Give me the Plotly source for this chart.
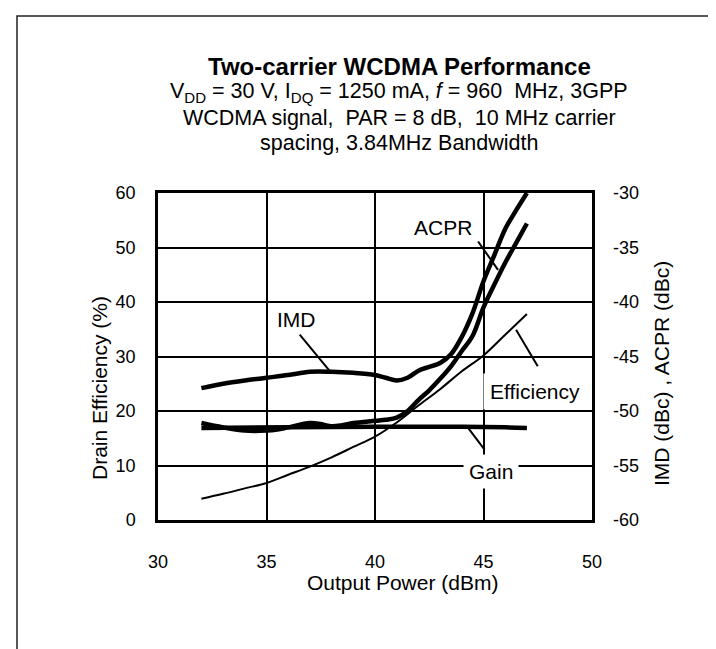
import plotly.graph_objects as go

# ---------------- data ----------------
imd_x = [32, 33, 34, 35, 36, 37, 38, 39, 40, 40.5, 41, 41.5, 42, 42.5, 43, 43.5, 44, 44.5, 45, 45.5, 46, 46.5, 47]
imd_y = [-47.9, -47.5, -47.2, -46.95, -46.7, -46.4, -46.4, -46.5, -46.7, -46.95, -47.2, -46.95, -46.3, -45.95, -45.6,
         -44.8, -43.2, -41.0, -38.1, -35.7, -33.3, -31.6, -30.0]

acpr_x = [32, 33, 34, 35, 35.5, 36, 37, 37.5, 38, 38.5, 39, 40, 40.5, 41, 41.5, 42, 42.5, 43, 43.5, 44, 44.5, 45, 45.5, 46, 46.5, 47]
acpr_y = [-51.1, -51.5, -51.8, -51.8, -51.7, -51.5, -51.1, -51.2, -51.4, -51.3, -51.1, -50.9, -50.8, -50.6, -50.0,
          -49.0, -48.1, -47.05, -45.9, -44.5, -43.1, -40.5, -38.4, -36.4, -34.6, -32.8]

eff_x = [32, 33, 34, 35, 36, 37, 38, 39, 40, 41, 42, 43, 44, 45, 46, 47]
eff_y = [3.9, 4.8, 5.8, 6.8, 8.3, 9.8, 11.5, 13.4, 15.3, 17.9, 21.0, 24.0, 27.3, 30.2, 34.0, 37.8]

gain_x = [32, 36, 40, 44, 46, 47]
gain_y = [16.9, 17.0, 17.1, 17.1, 17.0, 16.9]

x_ticks = [30, 35, 40, 45, 50]
y_left_ticks = [0, 10, 20, 30, 40, 50, 60]
y_right_ticks = [-60, -55, -50, -45, -40, -35, -30]
y_right_text = ["-60", "-55", "-50", "-45", "-40", "-35", "-30"]

FONT = "Liberation Sans, Arial, sans-serif"

fig = go.Figure()
fig.add_trace(go.Scatter(x=eff_x, y=eff_y, mode="lines", line=dict(color="black", width=2, shape="spline"),
                         name="Efficiency", yaxis="y"))
fig.add_trace(go.Scatter(x=gain_x, y=gain_y, mode="lines", line=dict(color="black", width=4.5, shape="spline"),
                         name="Gain", yaxis="y"))
fig.add_trace(go.Scatter(x=imd_x, y=imd_y, mode="lines", line=dict(color="black", width=4.5, shape="spline"),
                         name="IMD", yaxis="y2"))
fig.add_trace(go.Scatter(x=acpr_x, y=acpr_y, mode="lines", line=dict(color="black", width=4.5, shape="spline"),
                         name="ACPR", yaxis="y2"))

# pointer lines (left-axis coordinates)
pointers = [
    ((36.53, 34.0), (37.9, 27.4)),
    ((44.75, 51.1), (45.67, 45.9)),
    ((47.5, 28.2), (46.5, 34.9)),
    ((45.05, 12.9), (44.29, 16.9)),
]
for (xa, ya), (xb, yb) in pointers:
    fig.add_shape(type="line", xref="x", yref="y", x0=xa, y0=ya, x1=xb, y1=yb,
                  line=dict(color="black", width=2))

# outer frame
fig.add_shape(type="rect", xref="paper", yref="paper", x0=-0.3249, x1=1.2811, y0=-0.45, y1=1.5413,
              line=dict(color="#222", width=1.5), fillcolor="rgba(0,0,0,0)")

labels = [
    ("IMD", 36.37, 36.75, None, 0),
    ("ACPR", 43.13, 53.7, None, 0),
    ("Efficiency", 47.36, 23.6, "white", 6),
    ("Gain", 45.36, 8.9, "white", 5),
]
for txt, lx, ly, bg, pad in labels:
    fig.add_annotation(x=lx, y=ly, xref="x", yref="y", text=txt, showarrow=False,
                       xanchor="center", yanchor="middle",
                       font=dict(size=21, color="black", family=FONT),
                       bgcolor=bg if bg else "rgba(0,0,0,0)", borderpad=pad)

# paper coords: x 0->150px, 1->584px ; y 0->512px, 1->185px
def px_x(p):
    return (p - 150) / 434.0

def px_y(p):
    return (512 - p) / 327.0

title_lines = [
    ("<b>Two-carrier WCDMA Performance</b>", 58.5, 24),
    ("V<sub>DD</sub> = 30 V, I<sub>DQ</sub> = 1250 mA, <i>f</i> = 960  MHz, 3GPP", 85, 21.5),
    ("WCDMA signal,  PAR = 8 dB,  10 MHz carrier", 110, 21.5),
    ("spacing, 3.84MHz Bandwidth", 135, 21.5),
]
for txt, yy, sz in title_lines:
    fig.add_annotation(x=px_x(391), y=px_y(yy), xref="paper", yref="paper", text=txt, showarrow=False,
                       xanchor="center", yanchor="middle", font=dict(size=sz, color="black", family=FONT))

# axis titles
fig.add_annotation(x=px_x(91), y=px_y(380), xref="paper", yref="paper", text="Drain Efficiency (%)",
                   textangle=-90, showarrow=False, xanchor="center", yanchor="middle",
                   font=dict(size=21, color="black", family=FONT))
fig.add_annotation(x=px_x(653), y=px_y(366), xref="paper", yref="paper", text="IMD (dBc) , ACPR (dBc)",
                   textangle=-90, showarrow=False, xanchor="center", yanchor="middle",
                   font=dict(size=21, color="black", family=FONT))
fig.add_annotation(x=px_x(394), y=px_y(574), xref="paper", yref="paper", text="Output Power (dBm)",
                   showarrow=False, xanchor="center", yanchor="middle",
                   font=dict(size=21, color="black", family=FONT))

fig.update_layout(
    width=716, height=649,
    margin=dict(l=150, r=132, t=185, b=137),
    paper_bgcolor="white", plot_bgcolor="white",
    showlegend=False,
    font=dict(family=FONT, size=18, color="black"),
    xaxis=dict(range=[30, 50], tickvals=x_ticks, showgrid=True, gridcolor="black", gridwidth=2,
               showline=True, linecolor="black", linewidth=2.5, mirror=True, zeroline=False,
               ticks="", ticklabelstandoff=24, tickfont=dict(size=18)),
    yaxis=dict(range=[0, 60], tickvals=y_left_ticks, showgrid=True, gridcolor="black", gridwidth=2,
               showline=True, linecolor="black", linewidth=2.5, mirror=True, zeroline=False,
               ticks="", ticklabelstandoff=16, tickfont=dict(size=18)),
    yaxis2=dict(range=[-60, -30], tickvals=y_right_ticks, ticktext=y_right_text, overlaying="y", side="right",
                showgrid=False, zeroline=False, showline=False, ticks="", ticklabelstandoff=20,
                tickfont=dict(size=18)),
)

fig.write_html("out.html")
